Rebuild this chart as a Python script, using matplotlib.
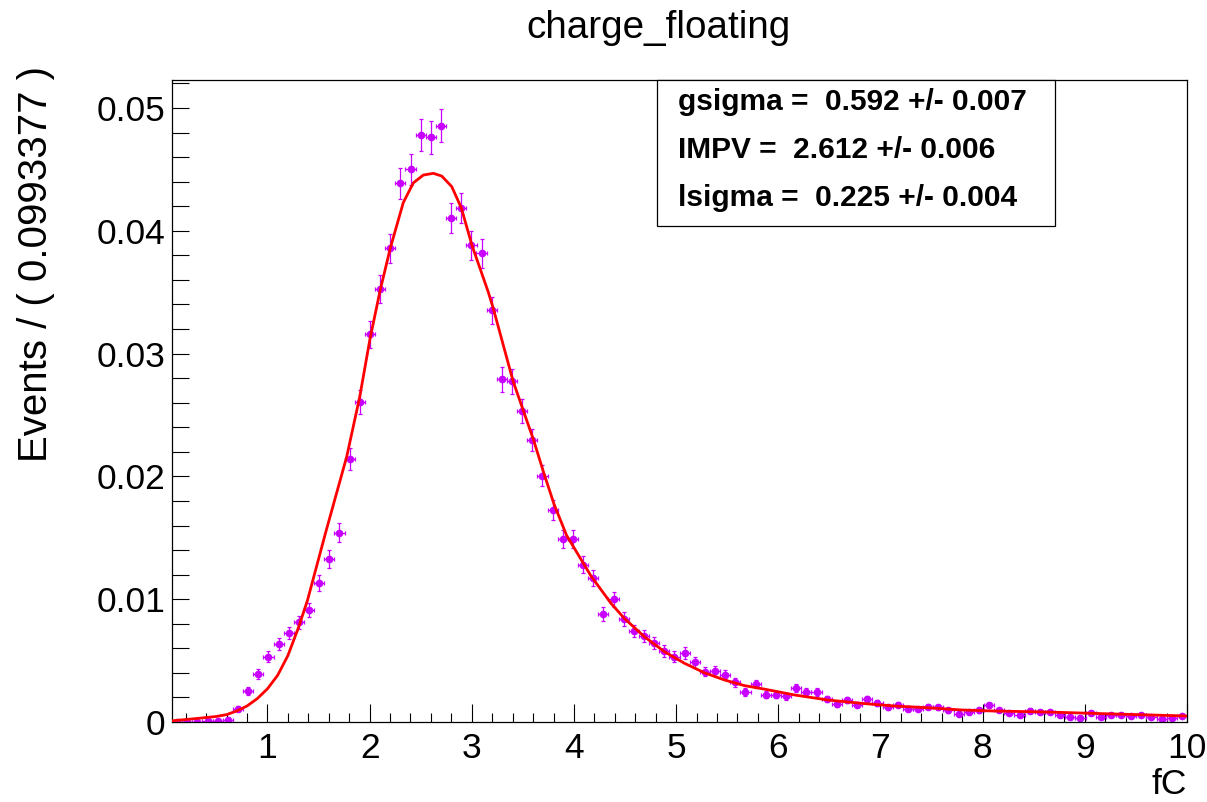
import numpy as np
import matplotlib
matplotlib.use("Agg")
import matplotlib.pyplot as plt
from matplotlib.patches import Rectangle
from matplotlib.ticker import MultipleLocator, FixedLocator

# histogram: 100 bins of width 0.0993377 ending at 10 fC
bin_width = 0.0993377
x_min = 10.0 - 100 * bin_width
x_max = 10.0
n_events = 27000  # effective entries, sets the Poisson error bars

bin_values = [
    0.00002, 0.00003, 0.00004, 0.00005, 0.00008, 0.0002, 0.00108, 0.00252, 0.00391, 0.00532,
    0.00633, 0.00725, 0.00812, 0.00911, 0.01134, 0.01327, 0.01542, 0.02144, 0.02606, 0.03157,
    0.03524, 0.03857, 0.04387, 0.0450, 0.0478, 0.0476, 0.04856, 0.04107, 0.04186, 0.03882,
    0.03817, 0.03353, 0.02793, 0.02774, 0.02535, 0.02296, 0.02006, 0.01724, 0.0149, 0.0149,
    0.0128, 0.0117, 0.00882, 0.00999, 0.00839, 0.00741, 0.0070, 0.00643, 0.00578, 0.00532,
    0.00562, 0.00486, 0.0041, 0.00415, 0.00385, 0.00323, 0.00244, 0.00307, 0.0022, 0.0022,
    0.00209, 0.00274, 0.00244, 0.00244, 0.00185, 0.00147, 0.00179, 0.00141, 0.00187, 0.00152,
    0.0012, 0.00141, 0.00108, 0.00106, 0.00125, 0.0012, 0.00095, 0.00063, 0.00084, 0.00095,
    0.00135, 0.00098, 0.00071, 0.00055, 0.00092, 0.00079, 0.00084, 0.00057, 0.00043, 0.00035,
    0.00076, 0.00043, 0.00059, 0.00055, 0.00049, 0.00059, 0.00043, 0.00027, 0.0003, 0.00051,
]

# fit curve (Landau x Gauss)
fit_x = [0.069, 0.3, 0.5, 0.6, 0.7, 0.8, 0.9, 1.0, 1.1, 1.2,
         1.3, 1.392, 1.569, 1.776, 1.904, 2.004, 2.102, 2.203, 2.33, 2.428,
         2.526, 2.624, 2.706, 2.804, 2.898, 3.002, 3.162, 3.21, 3.405, 3.605,
         3.706, 3.807, 3.928, 4.167, 4.363, 4.493, 4.689, 4.885, 5.082, 5.277,
         5.474, 5.67, 5.85, 6.16, 6.487, 6.814, 7.14, 7.468, 7.794, 8.088,
         8.644, 9.297, 10.0]
fit_y = [0.0001, 0.00028, 0.00045, 0.0006, 0.0009, 0.0013, 0.0019, 0.0027, 0.0038, 0.0054,
         0.0076, 0.0099, 0.0154, 0.0216, 0.0265, 0.0312, 0.0351, 0.0386, 0.0423, 0.0439,
         0.04454, 0.04468, 0.04446, 0.0436, 0.04186, 0.03882, 0.0350, 0.0337, 0.02774, 0.02296,
         0.02025, 0.0177, 0.0152, 0.01189, 0.00966, 0.00844, 0.00695, 0.00573, 0.00478, 0.00401,
         0.00342, 0.00296, 0.0027, 0.0022, 0.00179, 0.00152, 0.0013, 0.00116, 0.00098, 0.0009,
         0.00081, 0.00065, 0.00049]

stats_lines = ["gsigma =  0.592 +/- 0.007",
               "IMPV =  2.612 +/- 0.006",
               "lsigma =  0.225 +/- 0.004"]

title = "charge_floating"
x_label = "fC"
y_label = "Events / ( 0.0993377 )"
y_ticks = [0, 0.01, 0.02, 0.03, 0.04, 0.05]
y_tick_labels = ["0", "0.01", "0.02", "0.03", "0.04", "0.05"]

point_color = "#c800ff"
W, H = 1207, 802

plt.rcParams["font.family"] = ["Liberation Sans", "DejaVu Sans"]

fig = plt.figure(figsize=(W / 100, H / 100), dpi=100)
ax = fig.add_axes([172 / W, 1 - 722 / H, (1187 - 172) / W, (722 - 80) / H])

centers = x_min + (np.arange(len(bin_values)) + 0.5) * bin_width
vals = np.array(bin_values)
yerr = np.sqrt(vals / n_events)

ax.errorbar(centers, vals, yerr=yerr, xerr=bin_width / 2, fmt="o",
            color=point_color, ms=4.5, elinewidth=0.9, capsize=1.6,
            capthick=0.9, zorder=2)
ax.plot(fit_x, fit_y, color="red", lw=2.0, zorder=3)

ax.set_xlim(x_min, x_max)
ax.set_ylim(0, (722 - 80) / 12280)

ax.xaxis.set_major_locator(FixedLocator(range(1, 11)))
ax.xaxis.set_minor_locator(MultipleLocator(0.2))
ax.yaxis.set_major_locator(FixedLocator(y_ticks))
ax.yaxis.set_minor_locator(MultipleLocator(0.002))
ax.set_yticklabels(y_tick_labels)

ax.tick_params(axis="both", which="both", direction="in", top=False, right=False,
               width=0.8, color="black", labelsize=25.5)
ax.tick_params(axis="x", which="major", length=13, pad=7)
ax.tick_params(axis="x", which="minor", length=6.5)
ax.tick_params(axis="y", which="both", length=12, pad=5)
for s in ax.spines.values():
    s.set_linewidth(0.9)

fig.text(658 / W, 1 - 28 / H, title, ha="center", va="center", fontsize=27.8)
fig.text(1187 / W, 1 - 785 / H, x_label, ha="right", va="center", fontsize=25.5)
fig.text(36 / W, 1 - 66 / H, y_label, ha="center", va="top", rotation=90, fontsize=29)

# stats box
fig.patches.append(Rectangle((657 / W, 1 - 226 / H), (1055 - 657) / W, (226 - 80) / H,
                             transform=fig.transFigure, fill=True, facecolor="white",
                             edgecolor="black", lw=0.9, zorder=5))
for i, line in enumerate(stats_lines):
    fig.text(678 / W, 1 - (102 + 48 * i) / H, line, ha="left", va="center",
             fontsize=21.5, fontweight="bold", zorder=6)

fig.savefig("out.png", dpi=100)
